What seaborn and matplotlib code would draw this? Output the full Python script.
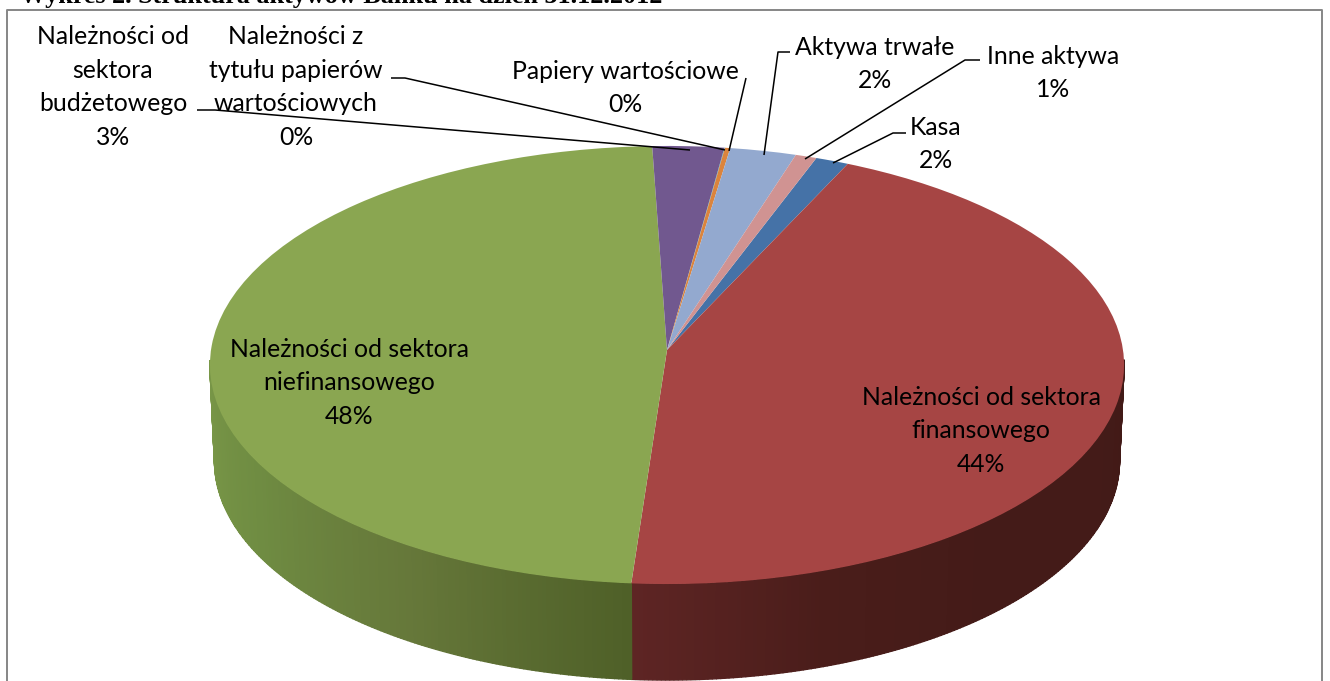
"""Struktura aktywow Banku - pseudo 3D pie redrawn with seaborn / matplotlib."""

import numpy as np
import matplotlib
matplotlib.use("Agg")
import matplotlib.pyplot as plt
import seaborn as sns
from matplotlib.path import Path
from matplotlib.transforms import Transform

# ── Data ──────────────────────────────────────────────────────────────────────
categories = ["Kasa", "Należności od sektora\nfinansowego", "Należności od sektora\nniefinansowego",
              "Należności od\nsektora\nbudżetowego", "Należności z\ntytułu papierów\nwartościowych",
              "Papiery wartościowe", "Aktywa trwałe", "Inne aktywa"]
values = [1.25, 44.25, 48.29, 2.7, 0.02, 0.2, 2.5, 0.8]
labels_pct = ["2%", "44%", "48%", "3%", "0%", "0%", "2%", "1%"]
top_colors = ["#4572a7", "#a64544", "#8aa651", "#71588f", "#4198af", "#db843d", "#93a9cf", "#d09392"]
# only the two large slices show their side wall
side_stops = [["#2f4d72", "#2f4d72"],
              ["#5e2524", "#4a1d1a", "#441b18", "#441b18", "#421a17"],
              ["#7a9848", "#6f8c42", "#66783a", "#4f6028"],
              ["#4c3b61", "#4c3b61"], ["#2c6676", "#2c6676"], ["#945a29", "#945a29"],
              ["#63728c", "#63728c"], ["#8d6363", "#8d6363"]]
title = "Wykres 2. Struktura aktywów Banku na dzień 31.12.2012"

# ── Layout ────────────────────────────────────────────────────────────────────
CX, CY = 667, 350
RX, RY = 456, 218
PERSP = 0.0685
DEPTH = 96
START_ANGLE = 90 - 20.4

label_pos = [(936, 144), (981, 431), (349, 383), (113, 87), (296, 87), (625, 88), (875, 64), (1053, 73)]
leaders = [
    [(906, 133), (893, 133), (833, 163)],
    None,
    None,
    [(197, 110), (215, 110), (690, 150)],
    [(391, 78), (405, 78), (725, 150)],
    [(746, 78), (729, 151)],
    [(790, 52), (778, 52), (764, 155)],
    [(980, 60), (965, 60), (805, 159)],
]


def project(u, v, shift=0, scale=1.0):
    w = 1 + PERSP * v
    return CX + scale * RX * u / w, CY + shift - RY * v / w


class Persp(Transform):
    input_dims = output_dims = 2
    is_affine = False
    has_inverse = False

    def transform_non_affine(self, pts):
        x, y = project(pts[:, 0], pts[:, 1])
        return np.column_stack([x, y])

    def transform_path_non_affine(self, path):
        return Path(self.transform_non_affine(path.vertices), path.codes)


# ── Figure ────────────────────────────────────────────────────────────────────
sns.set_theme(style="white")
plt.rcParams["font.family"] = ["Lato", "DejaVu Sans"]

fig = plt.figure(figsize=(13.3, 6.81), dpi=100)
ax = fig.add_axes([0, 0, 1, 1])

wedges, _ = ax.pie(values, colors=top_colors, startangle=START_ANGLE, counterclock=False, frame=True,
                   wedgeprops={"linewidth": 0, "zorder": 3})
ax.set_aspect("auto")
ax.set_xlim(0, 1330)
ax.set_ylim(681, 0)
ax.set_xticks([])
ax.set_yticks([])
ax.set_axis_off()

persp = Persp()
for wedge in wedges:
    wedge.set_transform(persp + ax.transData)

# side wall, strip by strip so the shading runs along the rim
for wedge, stops in zip(wedges, side_stops):
    t1, t2 = wedge.theta1, wedge.theta2
    steps = max(2, int((t2 - t1) * 2))
    edges = np.linspace(t1, t2, steps + 1)
    visible = [i for i in range(steps) if np.sin(np.radians(edges[i:i + 2])).min() < -0.05]
    if not visible:
        continue
    pal = sns.blend_palette(stops, len(visible))
    for n, i in enumerate(visible):
        th = np.radians(np.linspace(edges[i], edges[i + 1], 4))
        u, v = np.cos(th), np.sin(th)
        x1, y1 = project(u, v)
        x2, y2 = project(u, v, DEPTH, 0.99)
        ax.fill(np.r_[x1, x2[::-1]], np.r_[y1, y2[::-1]], color=pal[n], lw=1.0, zorder=2)

# leader lines
for pts in leaders:
    if pts:
        xs, ys = zip(*pts)
        ax.plot(xs, ys, color="black", lw=1.1, zorder=5, solid_capstyle="butt")

# labels
for name, pct, (x, y) in zip(categories, labels_pct, label_pos):
    ax.text(x, y, f"{name}\n{pct}", ha="center", va="center", fontsize=17.8, color="black",
            linespacing=1.55, zorder=6)

# chart frame and the cut-off caption above it
ax.plot([7, 7, 1322, 1322], [681, 10, 10, 681], color="#868686", lw=1.4, zorder=6)
ax.text(20, 3, title, family="Liberation Serif", fontweight="bold", fontsize=18.8,
        color="black", ha="left", va="baseline", zorder=7)

fig.savefig("out.png", dpi=100)
